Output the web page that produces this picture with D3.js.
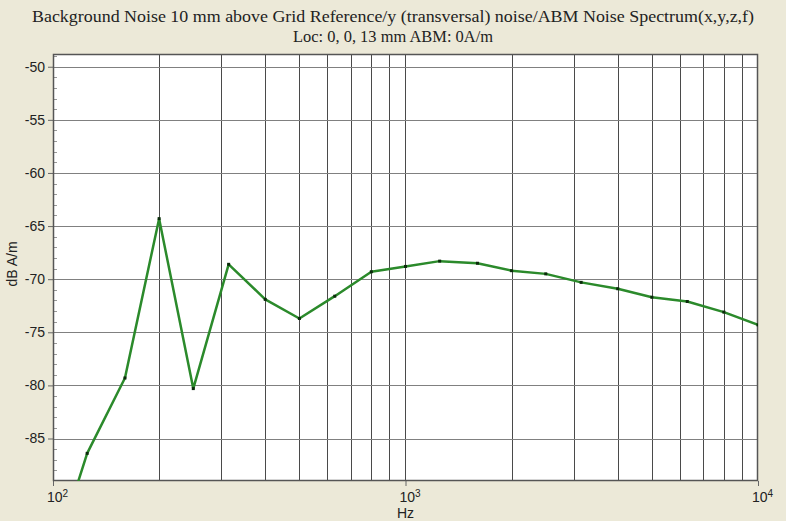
<!DOCTYPE html>
<html>
<head>
<meta charset="utf-8">
<script src="https://cdn.jsdelivr.net/npm/d3@7"></script>
<style>
  body { margin: 0; background: #ece9d8; }
  svg { display: block; }
</style>
</head>
<body>
<script>
// Chart data
const titleLines = [
    "Background Noise 10 mm above Grid Reference/y (transversal) noise/ABM Noise Spectrum(x,y,z,f)",
    "Loc: 0, 0, 13 mm ABM: 0A/m"
];
const titleWidths = [722, 200];
const freqs = [100, 125, 160, 200, 250, 315, 400, 500, 630, 800, 1000,
               1250, 1600, 2000, 2500, 3150, 4000, 5000, 6300, 8000, 10000];
const levels = [-96.5, -86.4, -79.3, -64.3, -80.3, -68.6, -71.9, -73.7, -71.6, -69.3, -68.8,
                -68.3, -68.5, -69.2, -69.5, -70.3, -70.9, -71.7, -72.1, -73.1, -74.3];
const yTicks = [-85, -80, -75, -70, -65, -60, -55, -50];
const xTicks = [100, 1000, 10000];
const xLabels = ["2", "3", "4"];

// Set up dimensions
const width = 786;
const height = 521;
const margin = { top: 54, right: 28, bottom: 40, left: 53 };

const svg = d3.select("body")
    .append("svg")
    .attr("width", width)
    .attr("height", height);

svg.append("rect")
    .attr("width", width)
    .attr("height", height)
    .attr("fill", "#ece9d8");

const x = d3.scaleLog()
    .domain([100, 10000])
    .range([margin.left, width - margin.right]);

const y = d3.scaleLinear()
    .domain([-89, -48.8])
    .range([height - margin.bottom, margin.top]);

// Title
svg.append("g")
    .selectAll("text")
    .data(titleLines)
    .join("text")
    .attr("x", width / 2)
    .attr("y", (d, i) => 22 + i * 20)
    .attr("text-anchor", "middle")
    .attr("font-family", "Liberation Serif, Times New Roman, serif")
    .attr("font-size", 16)
    .attr("textLength", (d, i) => titleWidths[i])
    .attr("lengthAdjust", "spacingAndGlyphs")
    .attr("fill", "#222")
    .text(d => d);

// Plot area
svg.append("rect")
    .attr("x", margin.left)
    .attr("y", margin.top)
    .attr("width", width - margin.left - margin.right)
    .attr("height", height - margin.top - margin.bottom)
    .attr("fill", "#ffffff");

svg.append("clipPath")
    .attr("id", "plotclip")
    .append("rect")
    .attr("x", margin.left)
    .attr("y", margin.top)
    .attr("width", width - margin.left - margin.right)
    .attr("height", height - margin.top - margin.bottom);

// Vertical grid (decade minors)
const xGrid = x.ticks().filter(d => d > 100 && d < 10000);
svg.append("g")
    .selectAll("line")
    .data(xGrid)
    .join("line")
    .attr("x1", d => Math.round(x(d)) + 0.5)
    .attr("x2", d => Math.round(x(d)) + 0.5)
    .attr("y1", margin.top)
    .attr("y2", height - margin.bottom)
    .attr("stroke", "#4a4a4a")
    .attr("stroke-width", 1);

// Horizontal grid
svg.append("g")
    .selectAll("line")
    .data(yTicks)
    .join("line")
    .attr("x1", margin.left)
    .attr("x2", width - margin.right)
    .attr("y1", d => Math.round(y(d)) + 0.5)
    .attr("y2", d => Math.round(y(d)) + 0.5)
    .attr("stroke", "#808080")
    .attr("stroke-width", 1);

// Minor y ticks (every 1 dB, inside)
const yMinor = d3.range(-88, -48).filter(d => d % 5 !== 0);
svg.append("g")
    .selectAll("line")
    .data(yMinor)
    .join("line")
    .attr("x1", margin.left)
    .attr("x2", margin.left + 4)
    .attr("y1", d => Math.round(y(d)) + 0.5)
    .attr("y2", d => Math.round(y(d)) + 0.5)
    .attr("stroke", "#999");

// Y axis (plain hyphen for the minus sign, as in the original)
const yAxis = svg.append("g")
    .attr("transform", `translate(${margin.left},0)`)
    .call(d3.axisLeft(y).tickValues(yTicks).tickSize(5).tickPadding(3)
        .tickSizeOuter(0).tickFormat(d => String(d)));
yAxis.select(".domain").remove();
yAxis.selectAll("line").attr("stroke", "#666");
yAxis.selectAll("text")
    .attr("x", -8)
    .attr("font-family", "Liberation Sans, Arial, sans-serif")
    .attr("font-size", 14)
    .attr("fill", "#222");

// X axis
const xAxis = svg.append("g")
    .attr("transform", `translate(0,${height - margin.bottom})`)
    .call(d3.axisBottom(x).tickValues(xTicks).tickSize(5).tickSizeOuter(0).tickFormat(""));
xAxis.select(".domain").remove();
xAxis.selectAll("line").attr("stroke", "#666");

const xLab = svg.append("g")
    .selectAll("text")
    .data(xTicks)
    .join("text")
    .attr("x", d => x(d) - 6)
    .attr("y", height - margin.bottom + 21)
    .attr("text-anchor", "start")
    .attr("font-family", "Liberation Sans, Arial, sans-serif")
    .attr("font-size", 14)
    .attr("fill", "#222");
xLab.append("tspan").text("10");
xLab.append("tspan")
    .attr("dy", -5)
    .attr("font-size", 10)
    .text((d, i) => xLabels[i]);

// Axis titles
svg.append("text")
    .attr("x", x(1000))
    .attr("y", 518)
    .attr("text-anchor", "middle")
    .attr("font-family", "Liberation Sans, Arial, sans-serif")
    .attr("font-size", 14)
    .attr("fill", "#222")
    .text("Hz");

svg.append("text")
    .attr("transform", "translate(17,264) rotate(-90)")
    .attr("text-anchor", "middle")
    .attr("font-family", "Liberation Sans, Arial, sans-serif")
    .attr("font-size", 14)
    .attr("fill", "#222")
    .text("dB A/m");

// Plot border
svg.append("rect")
    .attr("x", margin.left + 0.5)
    .attr("y", margin.top + 0.5)
    .attr("width", width - margin.left - margin.right - 1)
    .attr("height", height - margin.top - margin.bottom - 1)
    .attr("fill", "none")
    .attr("stroke", "#555")
    .attr("stroke-width", 1.5);

// Data line
const data = freqs.map((f, i) => ({ f: f, v: levels[i] }));
const line = d3.line()
    .x(d => x(d.f))
    .y(d => y(d.v));

const plot = svg.append("g").attr("clip-path", "url(#plotclip)");

plot.append("path")
    .datum(data)
    .attr("d", line)
    .attr("fill", "none")
    .attr("stroke", "#2b8a2b")
    .attr("stroke-width", 2.5)
    .attr("stroke-linejoin", "round");

plot.append("g")
    .selectAll("rect")
    .data(data)
    .join("rect")
    .attr("x", d => x(d.f) - 1.5)
    .attr("y", d => y(d.v) - 1.5)
    .attr("width", 3)
    .attr("height", 3)
    .attr("fill", "#0b2a0b");
</script>
</body>
</html>
